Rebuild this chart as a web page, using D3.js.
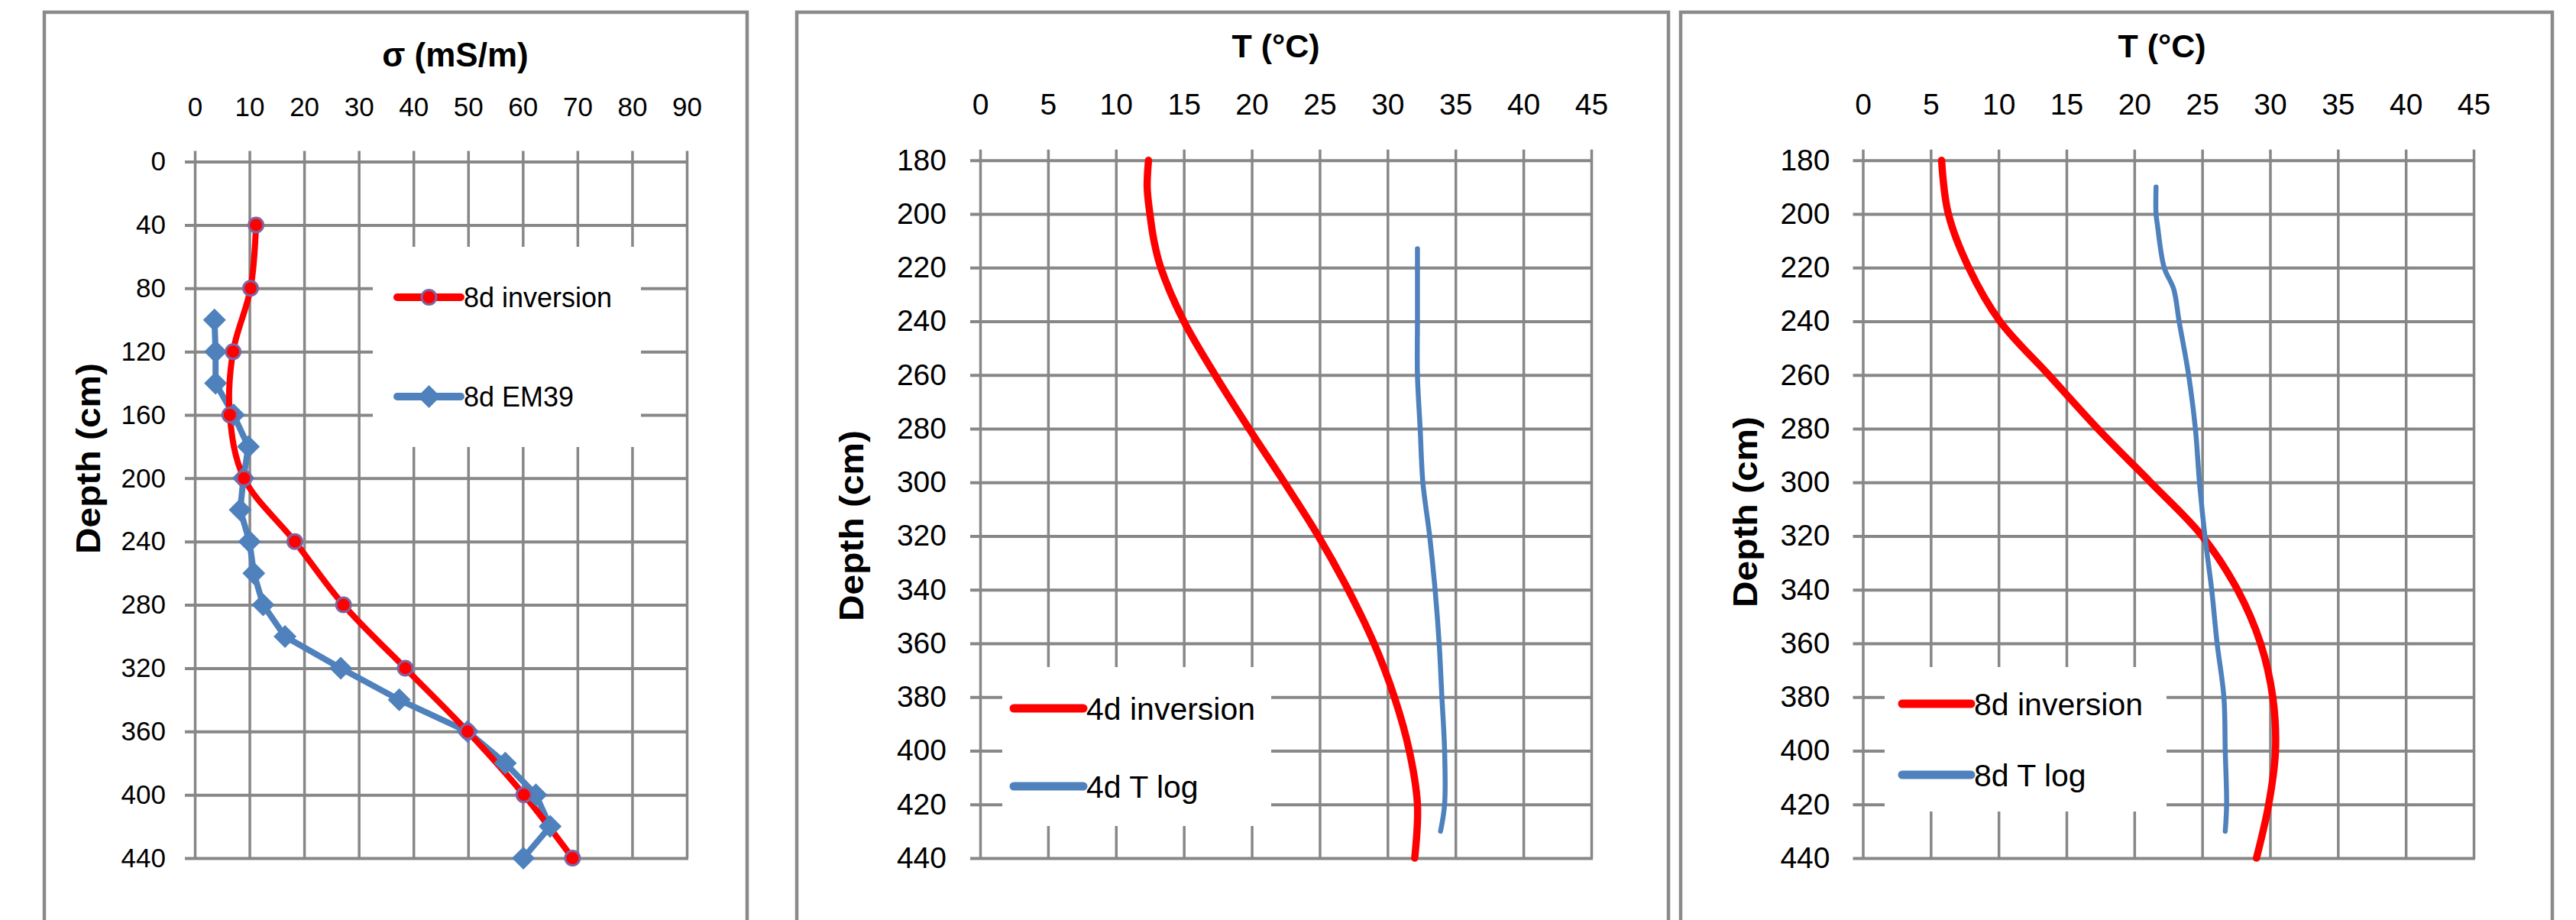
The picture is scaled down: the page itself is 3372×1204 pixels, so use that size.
<!DOCTYPE html>
<html>
<head>
<meta charset="utf-8">
<script src="https://cdn.jsdelivr.net/npm/d3@7"></script>
<style>
    body { margin: 0; background: #fff; }
    svg { display: block; }
    text { font-family: "Liberation Sans", Arial, sans-serif; fill: #000; }
</style>
</head>
<body>
<div id="chart"></div>
<script>
// ---- panel 1 : conductivity profile ----
const sigmaTicks = [0, 10, 20, 30, 40, 50, 60, 70, 80, 90];
const depthTicks1 = [0, 40, 80, 120, 160, 200, 240, 280, 320, 360, 400, 440];
const inv8dDepth = [40, 80, 120, 160, 200, 240, 280, 320, 360, 400, 440];
const inv8dSigma = [11.2, 10.2, 7.0, 6.4, 9.0, 18.3, 27.2, 38.5, 49.9, 60.2, 69.1];
const em39Depth = [100, 120, 140, 160, 180, 200, 220, 240, 260, 280, 300, 320, 340, 360, 380, 400, 420, 440];
const em39Sigma = [3.6, 3.8, 3.8, 7.1, 9.8, 8.9, 8.3, 10.0, 10.8, 12.5, 16.5, 26.7, 37.4, 49.9, 56.8, 62.4, 65.0, 60.1];

// ---- panels 2 and 3 : temperature profiles ----
const tempTicks = [0, 5, 10, 15, 20, 25, 30, 35, 40, 45];
const depthTicks2 = [180, 200, 220, 240, 260, 280, 300, 320, 340, 360, 380, 400, 420, 440];
const inv4dDepth = [180, 190, 200, 210, 220, 240, 260, 280, 300, 320, 340, 360, 380, 400, 420, 440];
const inv4dT = [12.4, 12.3, 12.5, 12.8, 13.3, 15.0, 17.3, 19.8, 22.4, 24.9, 27.1, 29.0, 30.5, 31.6, 32.2, 32.0];
const log4dDepth = [213, 220, 240, 260, 280, 300, 320, 340, 360, 380, 400, 420, 430];
const log4dT = [32.2, 32.2, 32.2, 32.2, 32.4, 32.6, 33.1, 33.5, 33.8, 34.0, 34.2, 34.2, 33.9];
const inv8dTDepth = [180, 200, 220, 240, 260, 280, 300, 320, 340, 360, 380, 400, 420, 440];
const inv8dT = [5.8, 6.3, 7.8, 10.1, 13.7, 17.3, 21.2, 25.0, 27.6, 29.3, 30.2, 30.4, 29.9, 29.0];
const log8dDepth = [190, 200, 204, 220, 228, 240, 260, 280, 300, 320, 340, 360, 380, 400, 420, 430];
const log8dT = [21.6, 21.6, 21.7, 22.2, 22.9, 23.3, 24.0, 24.5, 24.8, 25.2, 25.7, 26.1, 26.6, 26.7, 26.8, 26.7];

const RED = '#ff0000';
const BLUE = '#4f81bd';
const GRID = '#878787';

const zip = (xs, ys) => xs.map((v, i) => ({ v, d: ys[i] }));

const panels = [
    {
        frame: [58, 978], plot: { left: 255, right: 899, top: 211.6, bottom: 1123 },
        xDomain: [0, 90], xTicks: sigmaTicks, yDomain: [0, 440], yTicks: depthTicks1,
        title: 'σ (mS/m)', titleX: 596, titleY: 87, titleSize: 44,
        tickFont: 35, yPad: 38, yTitle: { x: 131, y: 600 },
        legendBox: [488, 323, 351, 262], legendFont: 36,
        legend: [
            { label: '8d inversion', x0: 520, x1: 603, y: 389, color: RED, marker: 'circle' },
            { label: '8d EM39', x0: 520, x1: 603, y: 519, color: BLUE, marker: 'diamond' }
        ],
        series: [
            { data: zip(em39Sigma, em39Depth), color: BLUE, width: 8, curve: d3.curveLinear, marker: 'diamond' },
            { data: zip(inv8dSigma, inv8dDepth), color: RED, width: 8, curve: d3.curveCatmullRom, marker: 'circle' }
        ]
    },
    {
        frame: [1043, 2184], plot: { left: 1283, right: 2083, top: 209.7, bottom: 1123 },
        xDomain: [0, 45], xTicks: tempTicks, yDomain: [180, 440], yTicks: depthTicks2,
        title: 'T (°C)', titleX: 1670, titleY: 75, titleSize: 43,
        tickFont: 39, yPad: 44, yTitle: { x: 1130, y: 688 },
        legendBox: [1312, 873, 352, 208], legendFont: 41,
        legend: [
            { label: '4d inversion', x0: 1327, x1: 1418, y: 927, color: RED, width: 11 },
            { label: '4d T log', x0: 1327, x1: 1418, y: 1029, color: BLUE, width: 11 }
        ],
        series: [
            { data: zip(inv4dT, inv4dDepth), color: RED, width: 9.5, curve: d3.curveCatmullRom },
            { data: zip(log4dT, log4dDepth), color: BLUE, width: 6.5, curve: d3.curveCatmullRom }
        ]
    },
    {
        frame: [2200, 3341], plot: { left: 2438.5, right: 3238, top: 209.7, bottom: 1123 },
        xDomain: [0, 45], xTicks: tempTicks, yDomain: [180, 440], yTicks: depthTicks2,
        title: 'T (°C)', titleX: 2830, titleY: 75, titleSize: 43,
        tickFont: 39, yPad: 43, yTitle: { x: 2300, y: 670 },
        legendBox: [2467, 873, 369, 189], legendFont: 41,
        legend: [
            { label: '8d inversion', x0: 2490, x1: 2580, y: 921, color: RED, width: 11 },
            { label: '8d T log', x0: 2490, x1: 2580, y: 1014, color: BLUE, width: 11 }
        ],
        series: [
            { data: zip(inv8dT, inv8dTDepth), color: RED, width: 9.5, curve: d3.curveCatmullRom },
            { data: zip(log8dT, log8dDepth), color: BLUE, width: 6.5, curve: d3.curveCatmullRom }
        ]
    }
];

const svg = d3.select('#chart').append('svg')
    .attr('width', 3372)
    .attr('height', 1204);

svg.append('rect').attr('width', 3372).attr('height', 1204).attr('fill', '#fff');

function drawMarker (g, kind, x, y) {
    if (kind === 'circle') {
        g.append('circle')
            .attr('cx', x).attr('cy', y).attr('r', 9.5)
            .attr('fill', RED)
            .attr('stroke', '#8064a2')
            .attr('stroke-width', 3);
    } else if (kind === 'diamond') {
        const s = 15;
        g.append('path')
            .attr('d', `M${x},${y - s}L${x + s},${y}L${x},${y + s}L${x - s},${y}Z`)
            .attr('fill', BLUE);
    }
}

function renderPanel (p) {
    const g = svg.append('g');
    const w = p.plot.right - p.plot.left;
    const h = p.plot.bottom - p.plot.top;

    // outer frame, runs past the bottom of the picture
    g.append('rect')
        .attr('x', p.frame[0]).attr('y', 16)
        .attr('width', p.frame[1] - p.frame[0]).attr('height', 1300)
        .attr('fill', 'none')
        .attr('stroke', '#8a8a8a')
        .attr('stroke-width', 4.5);

    const x = d3.scaleLinear().domain(p.xDomain).range([p.plot.left, p.plot.right]);
    const y = d3.scaleLinear().domain(p.yDomain).range([p.plot.top, p.plot.bottom]);

    // top axis + vertical grid
    const xAxis = g.append('g')
        .attr('transform', `translate(0,${p.plot.top})`)
        .call(d3.axisTop(x).tickValues(p.xTicks).tickSize(-h).tickSizeOuter(0).tickPadding(60));
    xAxis.select('.domain').remove();
    xAxis.selectAll('.tick line')
        .attr('y1', -14)
        .attr('stroke', GRID)
        .attr('stroke-width', 3.5);
    xAxis.selectAll('.tick text')
        .attr('font-size', p.tickFont)
        .attr('font-family', '"Liberation Sans", Arial, sans-serif')
        .attr('fill', '#000');

    // left axis + horizontal grid
    const yAxis = g.append('g')
        .attr('transform', `translate(${p.plot.left},0)`)
        .call(d3.axisLeft(y).tickValues(p.yTicks).tickSize(-w).tickSizeOuter(0).tickPadding(p.yPad));
    yAxis.select('.domain').remove();
    yAxis.selectAll('.tick line')
        .attr('x1', -13)
        .attr('x2', w + 2)
        .attr('stroke', GRID)
        .attr('stroke-width', 4);
    yAxis.selectAll('.tick text')
        .attr('font-size', p.tickFont)
        .attr('font-family', '"Liberation Sans", Arial, sans-serif')
        .attr('fill', '#000');

    // titles
    g.append('text')
        .attr('x', p.titleX).attr('y', p.titleY)
        .attr('text-anchor', 'middle')
        .attr('font-weight', 'bold')
        .attr('font-size', p.titleSize)
        .text(p.title);

    g.append('text')
        .attr('transform', `translate(${p.yTitle.x},${p.yTitle.y}) rotate(-90)`)
        .attr('text-anchor', 'middle')
        .attr('font-family', '"DejaVu Sans", Verdana, sans-serif')
        .attr('font-weight', 'bold')
        .attr('font-size', 44)
        .attr('textLength', 250)
        .attr('lengthAdjust', 'spacingAndGlyphs')
        .text('Depth (cm)');

    // legend background hides the grid behind it
    const lb = p.legendBox;
    g.append('rect')
        .attr('x', lb[0]).attr('y', lb[1])
        .attr('width', lb[2]).attr('height', lb[3])
        .attr('fill', '#fff');

    // series
    const body = g.append('g');
    p.series.forEach(s => {
        const line = d3.line()
            .x(d => x(d.v))
            .y(d => y(d.d))
            .curve(s.curve);
        body.append('path')
            .datum(s.data)
            .attr('d', line)
            .attr('fill', 'none')
            .attr('stroke', s.color)
            .attr('stroke-width', s.width)
            .attr('stroke-linejoin', 'round')
            .attr('stroke-linecap', 'round');
    });
    p.series.forEach(s => {
        if (!s.marker) return;
        s.data.forEach(d => drawMarker(body, s.marker, x(d.v), y(d.d)));
    });

    // legend entries
    p.legend.forEach(item => {
        g.append('line')
            .attr('x1', item.x0).attr('x2', item.x1)
            .attr('y1', item.y).attr('y2', item.y)
            .attr('stroke', item.color)
            .attr('stroke-width', item.width || 10)
            .attr('stroke-linecap', 'round');
        if (item.marker) drawMarker(g, item.marker, (item.x0 + item.x1) / 2, item.y);
        g.append('text')
            .attr('x', item.x1 + 4).attr('y', item.y)
            .attr('dy', '0.36em')
            .attr('font-size', p.legendFont)
            .text(item.label);
    });
}

panels.forEach(renderPanel);
</script>
</body>
</html>
